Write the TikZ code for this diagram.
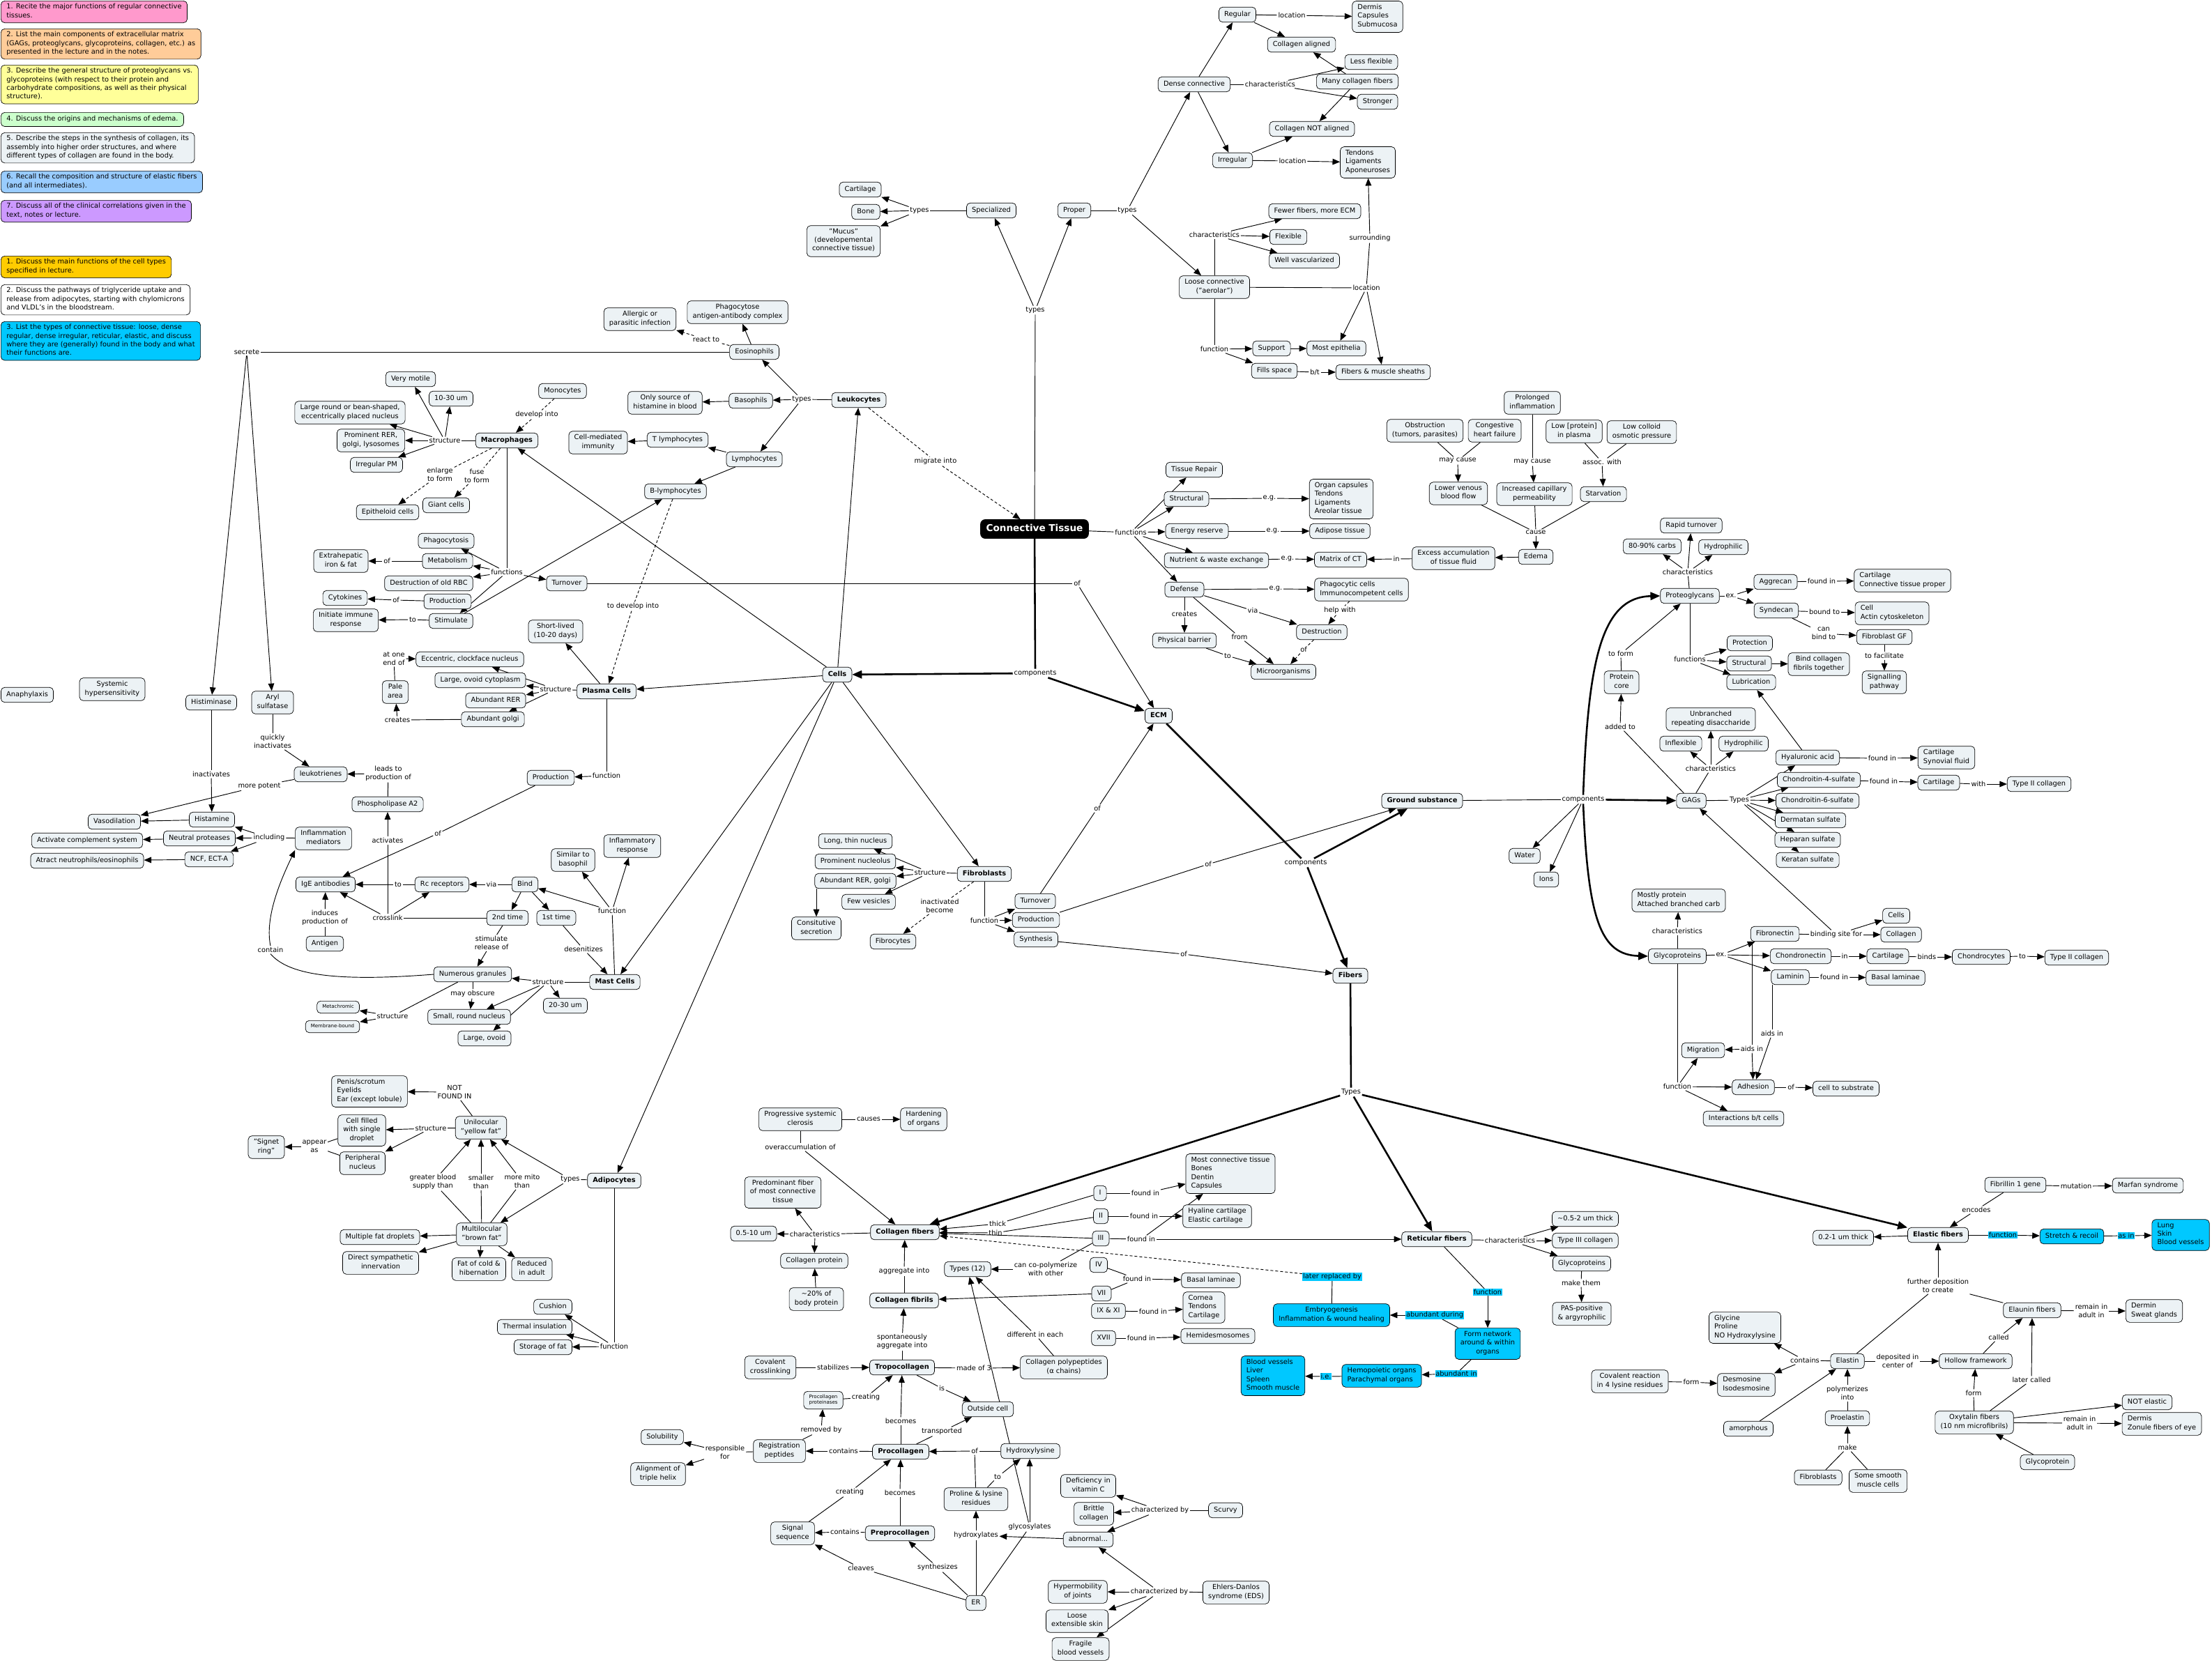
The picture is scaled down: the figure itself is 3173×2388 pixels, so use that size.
\documentclass[tikz,border=0pt]{standalone}
\usepackage{fontspec}
\setmainfont{DejaVu Sans}
\usetikzlibrary{arrows.meta}
\definecolor{nodefill}{RGB}{236,242,245}
\definecolor{skyfill}{RGB}{0,200,255}
\definecolor{gpink}{RGB}{255,153,204}
\definecolor{gorange}{RGB}{255,204,153}
\definecolor{gyellow}{RGB}{255,255,153}
\definecolor{ggreen}{RGB}{204,255,204}
\definecolor{gblue}{RGB}{153,204,255}
\definecolor{gpurple}{RGB}{204,153,255}
\definecolor{ggold}{RGB}{255,204,0}
\newcommand\mapfont{\fontsize{8.4pt}{10.4pt}\selectfont}
\newcommand\tinyfont{\fontsize{6pt}{7.4pt}\selectfont}
\newcommand\bigfont{\fontsize{11.6pt}{14pt}\selectfont}
\pgfdeclarelayer{links}
\pgfsetlayers{links,main}
\tikzset{
	concept/.style={rectangle, rounded corners=1.6mm, draw=black, fill=nodefill, line width=0.6pt, align=center, inner xsep=2.3mm, inner ysep=1.4mm, font=\mapfont, execute at begin node=\strut, execute at end node=\strut},
	keynode/.style={concept, font=\mapfont\bfseries},
	listbox/.style={concept, align=left},
	hilite/.style={concept, fill=skyfill},
	hilitelist/.style={listbox, fill=skyfill},
	tinybox/.style={concept, font=\tinyfont, inner ysep=1.3mm},
	ctbox/.style={concept, fill=black, text=white, font=\bigfont\bfseries, rounded corners=2mm, inner xsep=2.4mm, inner ysep=1.6mm},
	goal/.style={rectangle, rounded corners=1.6mm, draw=black, line width=0.6pt, align=left, anchor=north west, inner xsep=2.4mm, inner ysep=1.2mm, font=\mapfont, execute at begin node=\strut, execute at end node=\strut},
	link/.style={inner sep=1.4pt, font=\mapfont, align=center},
	cyanlink/.style={link, fill=skyfill, inner sep=0.7pt},
	conn/.style={line width=0.8pt},
	arrow/.style={conn, -{Triangle[length=3.2mm, width=2.6mm]}},
	dconn/.style={conn, dash pattern=on 1.2mm off 0.9mm},
	darrow/.style={arrow, dash pattern=on 1.2mm off 0.9mm},
	thickconn/.style={line width=2.2pt},
	thickarrow/.style={thickconn, -{Triangle[length=4.2mm, width=3.4mm]}},
}

\begin{document}
\begin{tikzpicture}[x=0.3mm, y=-0.3mm]
	\useasboundingbox (0,0) rectangle (3173,2388);
	\node[goal, fill=gpink] (g1) at (1,1) {1. Recite the major functions of regular connective\\tissues.};
	\node[goal, fill=gorange] (g2) at (1,41) {2. List the main components of extracellular matrix\\(GAGs, proteoglycans, glycoproteins, collagen, etc.) as\\presented in the lecture and in the notes.};
	\node[goal, fill=gyellow] (g3) at (1,93) {3. Describe the general structure of proteoglycans vs.\\glycoproteins (with respect to their protein and\\carbohydrate compositions, as well as their physical\\structure).};
	\node[goal, fill=ggreen] (g4) at (1,161) {4. Discuss the origins and mechanisms of edema.};
	\node[goal, fill=nodefill] (g5) at (1,190) {5. Describe the steps in the synthesis of collagen, its\\assembly into higher order structures, and where\\different types of collagen are found in the body.};
	\node[goal, fill=gblue] (g6) at (1,245) {6. Recall the composition and structure of elastic fibers\\(and all intermediates).};
	\node[goal, fill=gpurple] (g7) at (1,287) {7. Discuss all of the clinical correlations given in the\\text, notes or lecture.};
	\node[goal, fill=ggold] (h1) at (1,367) {1. Discuss the main functions of the cell types\\specified in lecture.};
	\node[goal, fill=white] (h2) at (1,408) {2. Discuss the pathways of triglyceride uptake and\\release from adipocytes, starting with chylomicrons\\and VLDL's in the bloodstream.};
	\node[goal, fill=skyfill] (h3) at (1,461) {3. List the types of connective tissue: loose, dense\\regular, dense irregular, reticular, elastic, and discuss\\where they are (generally) found in the body and what\\their functions are.};

	\node[ctbox] (ct) at (1484,759) {Connective Tissue};
	\node[link] (tTypes) at (1485,445) {types};
	\node[concept] (spec) at (1422,302) {Specialized};
	\node[concept] (proper) at (1541,302) {Proper};
	\node[link] (tSpec) at (1319,302) {types};
	\node[concept] (cart1) at (1234,272) {Cartilage};
	\node[concept] (bone) at (1242,304) {Bone};
	\node[concept] (mucus) at (1210,346) {"Mucus"\\(developemental\\connective tissue)};
	\node[link] (tProper) at (1617,302) {types};
	\node[concept] (dense) at (1713,121) {Dense connective};
	\node[concept] (regular) at (1775,21) {Regular};
	\node[link] (locReg) at (1853,22) {location};
	\node[listbox] (dermis) at (1976,24) {Dermis\\Capsules\\Submucosa};
	\node[concept] (colAl) at (1867,64) {Collagen aligned};
	\node[concept] (lessFlex) at (1967,89) {Less flexible};
	\node[link] (charDense) at (1822,121) {characteristics};
	\node[concept] (manyCol) at (1947,117) {Many collagen fibers};
	\node[concept] (stronger) at (1976,146) {Stronger};
	\node[concept] (colNot) at (1882,185) {Collagen NOT aligned};
	\node[concept] (irregular) at (1768,230) {Irregular};
	\node[link] (locIrr) at (1854,231) {location};
	\node[listbox] (tendons) at (1962,233) {Tendons\\Ligaments\\Aponeuroses};
	\node[concept] (fewer) at (1886,303) {Fewer fibers, more ECM};
	\node[link] (charLoose) at (1742,337) {characteristics};
	\node[concept] (flexible) at (1848,340) {Flexible};
	\node[link] (surround) at (1965,342) {surrounding};
	\node[concept] (wellVasc) at (1871,374) {Well vascularized};
	\node[concept] (loose) at (1742,412) {Loose connective\\("aerolar")};
	\node[link] (locLoose) at (1960,413) {location};
	\node[link] (fnLoose) at (1742,501) {function};
	\node[concept] (support) at (1824,500) {Support};
	\node[concept] (mostEpi) at (1917,500) {Most epithelia};
	\node[concept] (fills) at (1828,532) {Fills space};
	\node[link] (bt) at (1886,534) {b/t};
	\node[concept] (sheaths) at (1984,534) {Fibers \& muscle sheaths};

	\node[concept] (prolonged) at (2198,578) {Prolonged\\inflammation};
	\node[concept] (obstruct) at (2044,618) {Obstruction\\(tumors, parasites)};
	\node[concept] (chf) at (2144,618) {Congestive\\heart failure};
	\node[concept] (lowProt) at (2258,619) {Low [protein]\\in plasma};
	\node[concept] (lowColl) at (2355,620) {Low colloid\\osmotic pressure};
	\node[link] (mayC1) at (2091,661) {may cause};
	\node[link] (mayC2) at (2198,663) {may cause};
	\node[link] (assoc) at (2298,663) {assoc. with};
	\node[concept] (venous) at (2092,708) {Lower venous\\blood flow};
	\node[concept] (capill) at (2201,709) {Increased capillary\\permeability};
	\node[concept] (starv) at (2300,709) {Starvation};
	\node[link] (cause) at (2203,764) {cause};
	\node[concept] (edema) at (2203,799) {Edema};
	\node[concept] (excess) at (2085,801) {Excess accumulation\\of tissue fluid};
	\node[link] (inEx) at (2003,802) {in};
	\node[concept] (matrix) at (1923,803) {Matrix of CT};
	\node[link] (egNut) at (1847,802) {e.g.};
	\node[concept] (nutrient) at (1745,804) {Nutrient \& waste exchange};
	\node[link] (fnCT) at (1622,764) {functions};
	\node[concept] (repair) at (1713,674) {Tissue Repair};
	\node[concept] (structural) at (1702,716) {Structural};
	\node[link] (egStr) at (1821,715) {e.g.};
	\node[listbox] (organCaps) at (1924,716) {Organ capsules\\Tendons\\Ligaments\\Areolar tissue};
	\node[concept] (energy) at (1717,762) {Energy reserve};
	\node[link] (egEn) at (1826,762) {e.g.};
	\node[concept] (adipose) at (1922,762) {Adipose tissue};
	\node[concept] (defense) at (1699,846) {Defense};
	\node[link] (egDef) at (1830,845) {e.g.};
	\node[listbox] (phago) at (1953,846) {Phagocytic cells\\Immunocompetent cells};
	\node[link] (createsDef) at (1699,881) {creates};
	\node[link] (viaDef) at (1797,876) {via};
	\node[link] (helpWith) at (1922,876) {help with};
	\node[concept] (destr) at (1896,907) {Destruction};
	\node[link] (fromDef) at (1778,914) {from};
	\node[concept] (barrier) at (1699,919) {Physical barrier};
	\node[link] (ofDestr) at (1870,932) {of};
	\node[link] (toBar) at (1761,941) {to};
	\node[concept] (micro) at (1841,964) {Microorganisms};

	\node[keynode] (leuko) at (1232,574) {Leukocytes};
	\node[link] (tLeuko) at (1150,573) {types};
	\node[concept] (eosin) at (1082,505) {Eosinophils};
	\node[concept] (phagoAg) at (1058,448) {Phagocytose\\antigen-antibody complex};
	\node[concept] (allergic) at (918,458) {Allergic or\\parasitic infection};
	\node[link] (reactTo) at (1013,487) {react to};
	\node[concept] (basoph) at (1077,575) {Basophils};
	\node[concept] (onlySrc) at (954,578) {Only source of\\histamine in blood};
	\node[concept] (lympho) at (1082,659) {Lymphocytes};
	\node[concept] (tLym) at (972,631) {T lymphocytes};
	\node[concept] (cellMed) at (858,635) {Cell-mediated\\immunity};
	\node[concept] (bLym) at (969,705) {B-lymphocytes};
	\node[link] (migrate) at (1342,662) {migrate into};
	\node[link] (secrete) at (354,505) {secrete};

	\node[keynode] (macro) at (727,632) {Macrophages};
	\node[link] (strMac) at (638,632) {structure};
	\node[concept] (motile) at (589,544) {Very motile};
	\node[concept] (um1030) at (647,572) {10-30 um};
	\node[concept] (largeNuc) at (502,592) {Large round or bean-shaped,\\eccentrically placed nucleus};
	\node[concept] (promRER) at (532,632) {Prominent RER,\\golgi, lysosomes};
	\node[concept] (irrPM) at (540,667) {Irregular PM};
	\node[link] (enlarge) at (631,681) {enlarge\\to form};
	\node[link] (fuse) at (684,683) {fuse\\to form};
	\node[concept] (epith) at (556,735) {Epitheloid cells};
	\node[concept] (giant) at (640,725) {Giant cells};
	\node[concept] (mono) at (807,561) {Monocytes};
	\node[link] (develop) at (770,595) {develop into};
	\node[concept] (phagocyt) at (640,776) {Phagocytosis};
	\node[link] (fnMac) at (727,821) {functions};
	\node[concept] (extrahep) at (489,805) {Extrahepatic\\iron \& fat};
	\node[link] (ofMet) at (555,805) {of};
	\node[concept] (metab) at (642,805) {Metabolism};
	\node[concept] (destRBC) at (615,837) {Destruction of old RBC};
	\node[concept] (turnMac) at (813,837) {Turnover};
	\node[concept] (cytok) at (495,858) {Cytokines};
	\node[link] (ofCyt) at (568,861) {of};
	\node[concept] (prodMac) at (642,863) {Production};
	\node[concept] (initImm) at (496,890) {Initiate immune\\response};
	\node[link] (toImm) at (592,889) {to};
	\node[concept] (stim) at (647,891) {Stimulate};
	\node[link] (ofTurn) at (1545,837) {of};

	\node[keynode] (plasma) at (870,992) {Plasma Cells};
	\node[concept] (shortLived) at (797,906) {Short-lived\\(10-20 days)};
	\node[link] (strPl) at (797,989) {structure};
	\node[concept] (eccent) at (674,946) {Eccentric, clockface nucleus};
	\node[concept] (ovoidCyt) at (689,976) {Large, ovoid cytoplasm};
	\node[concept] (abRER) at (711,1005) {Abundant RER};
	\node[concept] (abGolgi) at (707,1032) {Abundant golgi};
	\node[concept] (pale) at (567,993) {Pale\\area};
	\node[link] (atEnd) at (565,945) {at one\\end of};
	\node[link] (createsPl) at (570,1033) {creates};
	\node[link] (fnPl) at (870,1113) {function};
	\node[concept] (prodPl) at (790,1116) {Production};
	\node[link] (ofProd) at (628,1196) {of};
	\node[link] (toDevelop) at (908,870) {to develop into};

	\node[concept] (anaph) at (39,997) {Anaphylaxis};
	\node[concept] (sysHyp) at (161,989) {Systemic\\hypersensitivity};
	\node[concept] (histase) at (303,1008) {Histiminase};
	\node[concept] (aryl) at (391,1008) {Aryl\\sulfatase};
	\node[link] (quickly) at (391,1064) {quickly\\inactivates};
	\node[concept] (leukot) at (460,1111) {leukotrienes};
	\node[link] (leadsTo) at (557,1110) {leads to\\production of};
	\node[link] (inact) at (303,1111) {inactivates};
	\node[link] (potent) at (372,1128) {more potent};
	\node[concept] (phosA2) at (556,1154) {Phospholipase A2};
	\node[concept] (histamine) at (304,1176) {Histamine};
	\node[concept] (vasod) at (164,1179) {Vasodilation};
	\node[concept] (neutral) at (286,1203) {Neutral proteases};
	\node[link] (including) at (386,1202) {including};
	\node[concept] (inflMed) at (464,1203) {Inflammation\\mediators};
	\node[concept] (complement) at (125,1206) {Activate complement system};
	\node[link] (activates) at (556,1206) {activates};
	\node[concept] (ncf) at (300,1233) {NCF, ECT-A};
	\node[concept] (atract) at (125,1235) {Atract neutrophils/eosinophils};
	\node[concept] (ige) at (467,1269) {IgE antibodies};
	\node[link] (toIge) at (571,1269) {to};
	\node[concept] (rc) at (634,1269) {Rc receptors};
	\node[link] (viaBind) at (705,1269) {via};
	\node[concept] (bind) at (753,1269) {Bind};
	\node[link] (induces) at (466,1317) {induces\\production of};
	\node[link] (crosslink) at (556,1317) {crosslink};
	\node[concept] (second) at (728,1317) {2nd time};
	\node[concept] (first) at (798,1317) {1st time};
	\node[concept] (antigen) at (466,1354) {Antigen};
	\node[link] (stimRel) at (705,1353) {stimulate\\release of};
	\node[link] (contain) at (388,1363) {contain};
	\node[concept] (granules) at (678,1398) {Numerous granules};
	\node[link] (strMast) at (786,1409) {structure};
	\node[link] (obscure) at (678,1426) {may obscure};
	\node[tinybox] (metachr) at (485,1445) {Metachromic};
	\node[link] (strGran) at (563,1458) {structure};
	\node[concept] (smallNuc) at (673,1459) {Small, round nucleus};
	\node[tinybox] (membr) at (477,1473) {Membrane-bound};
	\node[concept] (largeOv) at (695,1490) {Large, ovoid};
	\node[concept] (um2030) at (811,1443) {20-30 um};
	\node[keynode] (mast) at (882,1409) {Mast Cells};
	\node[link] (fnMast) at (878,1307) {function};
	\node[concept] (similar) at (822,1234) {Similar to\\basophil};
	\node[concept] (inflResp) at (907,1214) {Inflammatory\\response};
	\node[link] (desens) at (837,1362) {desenitizes};

	\node[keynode] (adipo) at (881,1694) {Adipocytes};
	\node[link] (tAdipo) at (818,1692) {types};
	\node[link] (notFound) at (652,1567) {NOT\\FOUND IN};
	\node[listbox] (penis) at (530,1566) {Penis/scrotum\\Eyelids\\Ear (except lobule)};
	\node[concept] (uniloc) at (690,1618) {Unilocular\\"yellow fat"};
	\node[link] (strUni) at (618,1619) {structure};
	\node[concept] (cellFilled) at (519,1622) {Cell filled\\with single\\droplet};
	\node[concept] (signet) at (382,1646) {"Signet\\ring"};
	\node[link] (appear) at (451,1645) {appear\\as};
	\node[concept] (periph) at (520,1669) {Peripheral\\nucleus};
	\node[link] (greater) at (621,1696) {greater blood\\supply than};
	\node[link] (smaller) at (690,1696) {smaller\\than};
	\node[link] (moreMito) at (749,1695) {more mito\\than};
	\node[concept] (multiloc) at (691,1771) {Multilocular\\"brown fat"};
	\node[concept] (multDrop) at (545,1775) {Multiple fat droplets};
	\node[concept] (directSym) at (546,1812) {Direct sympathetic\\innervation};
	\node[concept] (fatCold) at (687,1821) {Fat of cold \&\\hibernation};
	\node[concept] (reduced) at (763,1821) {Reduced\\in adult};
	\node[concept] (cushion) at (793,1875) {Cushion};
	\node[concept] (thermal) at (767,1904) {Thermal insulation};
	\node[concept] (storage) at (779,1933) {Storage of fat};
	\node[link] (fnAdipo) at (881,1932) {function};

	\node[keynode] (cells) at (1201,968) {Cells};
	\node[link] (compCT) at (1485,966) {components};
	\node[keynode] (fibro) at (1412,1254) {Fibroblasts};
	\node[link] (strFib) at (1334,1252) {structure};
	\node[concept] (longNuc) at (1227,1207) {Long, thin nucleus};
	\node[concept] (promNuc) at (1227,1236) {Prominent nucleolus};
	\node[concept] (abRERg) at (1227,1264) {Abundant RER, golgi};
	\node[concept] (fewVes) at (1246,1294) {Few vesicles};
	\node[concept] (constit) at (1171,1332) {Consitutive\\secretion};
	\node[link] (inactBec) at (1348,1300) {inactivated\\become};
	\node[concept] (fibrocytes) at (1281,1351) {Fibrocytes};
	\node[link] (fnFib) at (1412,1321) {function};
	\node[concept] (turnFib) at (1485,1293) {Turnover};
	\node[concept] (prodFib) at (1486,1320) {Production};
	\node[concept] (synth) at (1486,1348) {Synthesis};
	\node[link] (ofTurnFib) at (1574,1160) {of};
	\node[link] (ofProdFib) at (1733,1240) {of};
	\node[link] (ofSynth) at (1698,1369) {of};

	\node[keynode] (ecm) at (1662,1027) {ECM};
	\node[link] (compECM) at (1873,1238) {components};
	\node[keynode] (ground) at (2040,1149) {Ground substance};
	\node[keynode] (fibers) at (1937,1400) {Fibers};
	\node[link] (compGS) at (2271,1147) {components};
	\node[concept] (water) at (2187,1228) {Water};
	\node[concept] (ions) at (2218,1262) {Ions};
	\node[concept] (proteo) at (2424,855) {Proteoglycans};
	\node[link] (charPG) at (2421,821) {characteristics};
	\node[concept] (rapid) at (2426,754) {Rapid turnover};
	\node[concept] (carbs) at (2370,784) {80-90\% carbs};
	\node[concept] (hydro1) at (2472,785) {Hydrophilic};
	\node[concept] (protCore) at (2326,979) {Protein\\core};
	\node[link] (toForm) at (2325,938) {to form};
	\node[link] (addedTo) at (2324,1043) {added to};
	\node[link] (exPG) at (2483,855) {ex.};
	\node[concept] (aggrecan) at (2547,835) {Aggrecan};
	\node[link] (foundAgg) at (2613,834) {found in};
	\node[listbox] (cartCTP) at (2729,833) {Cartilage\\Connective tissue proper};
	\node[concept] (syndecan) at (2548,876) {Syndecan};
	\node[link] (boundTo) at (2617,878) {bound to};
	\node[listbox] (cellActin) at (2714,880) {Cell\\Actin cytoskeleton};
	\node[link] (canBind) at (2616,909) {can\\bind to};
	\node[concept] (fgf) at (2703,914) {Fibroblast GF};
	\node[link] (facil) at (2703,941) {to facilitate};
	\node[concept] (signal) at (2703,979) {Signalling\\pathway};
	\node[link] (fnPG) at (2424,946) {functions};
	\node[concept] (protect) at (2510,923) {Protection};
	\node[concept] (structPG) at (2509,952) {Structural};
	\node[concept] (bindCol) at (2609,953) {Bind collagen\\fibrils together};
	\node[concept] (lubric) at (2512,979) {Lubrication};
	\node[concept] (unbranched) at (2454,1032) {Unbranched\\repeating disaccharide};
	\node[concept] (inflex) at (2411,1067) {Inflexible};
	\node[concept] (hydro2) at (2501,1067) {Hydrophilic};
	\node[link] (charGAG) at (2454,1103) {characteristics};
	\node[concept] (gags) at (2426,1149) {GAGs};
	\node[link] (typesGAG) at (2495,1148) {Types};
	\node[concept] (hyal) at (2593,1087) {Hyaluronic acid};
	\node[link] (foundHy) at (2700,1088) {found in};
	\node[listbox] (cartSyn) at (2792,1087) {Cartilage\\Synovial fluid};
	\node[concept] (c4s) at (2609,1119) {Chondroitin-4-sulfate};
	\node[link] (foundC4) at (2702,1121) {found in};
	\node[concept] (cart2) at (2781,1123) {Cartilage};
	\node[link] (withC) at (2838,1125) {with};
	\node[concept] (type2a) at (2925,1125) {Type II collagen};
	\node[concept] (c6s) at (2607,1149) {Chondroitin-6-sulfate};
	\node[concept] (dermatan) at (2597,1177) {Dermatan sulfate};
	\node[concept] (heparan) at (2593,1205) {Heparan sulfate};
	\node[concept] (keratan) at (2593,1234) {Keratan sulfate};
	\node[listbox] (mostlyProt) at (2408,1292) {Mostly protein\\Attached branched carb};
	\node[link] (charGly) at (2406,1336) {characteristics};
	\node[concept] (glyco) at (2406,1372) {Glycoproteins};
	\node[link] (exGly) at (2469,1370) {ex.};
	\node[concept] (fibronec) at (2546,1340) {Fibronectin};
	\node[link] (bindSite) at (2634,1341) {binding site for};
	\node[concept] (cellsN) at (2720,1314) {Cells};
	\node[concept] (collN) at (2727,1341) {Collagen};
	\node[concept] (chondronec) at (2583,1372) {Chondronectin};
	\node[link] (inCh) at (2646,1372) {in};
	\node[concept] (cart3) at (2708,1372) {Cartilage};
	\node[link] (binds) at (2764,1373) {binds};
	\node[concept] (chondrocytes) at (2842,1373) {Chondrocytes};
	\node[link] (toCh) at (2901,1372) {to};
	\node[concept] (type2b) at (2979,1374) {Type II collagen};
	\node[concept] (laminin) at (2568,1402) {Laminin};
	\node[link] (foundLam) at (2631,1402) {found in};
	\node[concept] (basal1) at (2719,1403) {Basal laminae};
	\node[link] (aidsLam) at (2542,1483) {aids in};
	\node[concept] (migration) at (2443,1507) {Migration};
	\node[link] (aidsFib) at (2513,1505) {aids in};
	\node[link] (fnGly) at (2406,1559) {function};
	\node[concept] (adhesion) at (2515,1560) {Adhesion};
	\node[link] (ofAdh) at (2569,1560) {of};
	\node[concept] (cellSub) at (2648,1562) {cell to substrate};
	\node[concept] (interact) at (2501,1605) {Interactions b/t cells};

	\node[link] (typesFib) at (1938,1567) {Types};
	\node[keynode] (colFib) at (1298,1768) {Collagen fibers};
	\node[keynode] (retic) at (2061,1778) {Reticular fibers};
	\node[keynode] (elastic) at (2780,1772) {Elastic fibers};
	\node[concept] (progress) at (1148,1606) {Progressive systemic\\clerosis};
	\node[link] (causes) at (1246,1606) {causes};
	\node[concept] (harden) at (1325,1606) {Hardening\\of organs};
	\node[link] (overacc) at (1148,1646) {overaccumulation of};
	\node[concept] (predom) at (1123,1711) {Predominant fiber\\of most connective\\tissue};
	\node[link] (charCol) at (1169,1771) {characteristics};
	\node[concept] (um0510) at (1081,1770) {0.5-10 um};
	\node[concept] (colProt) at (1168,1809) {Collagen protein};
	\node[concept] (pct20) at (1171,1864) {\textasciitilde20\% of\\body protein};
	\node[concept] (typeI) at (1578,1712) {I};
	\node[concept] (typeII) at (1579,1745) {II};
	\node[concept] (typeIII) at (1579,1777) {III};
	\node[concept] (typeIV) at (1576,1815) {IV};
	\node[concept] (typeVII) at (1580,1856) {VII};
	\node[concept] (typeIX) at (1590,1881) {IX \& XI};
	\node[concept] (typeXVII) at (1583,1920) {XVII};
	\node[link] (thick) at (1431,1756) {thick};
	\node[link] (thin) at (1428,1769) {thin};
	\node[concept] (types12) at (1388,1821) {Types (12)};
	\node[link] (copoly) at (1500,1821) {can co-polymerize\\with other};
	\node[link] (aggInto) at (1297,1824) {aggregate into};
	\node[keynode] (colFibrils) at (1297,1866) {Collagen fibrils};
	\node[link] (diffEach) at (1485,1915) {different in each};
	\node[link] (spont) at (1294,1925) {spontaneously\\aggregate into};
	\node[concept] (covalent) at (1105,1962) {Covalent\\crosslinking};
	\node[link] (stabil) at (1195,1962) {stabilizes};
	\node[keynode] (tropo) at (1294,1962) {Tropocollagen};
	\node[link] (madeOf) at (1397,1963) {made of 3};
	\node[concept] (polypep) at (1526,1962) {Collagen polypeptides\\(α chains)};
	\node[link] (isOut) at (1351,1992) {is};
	\node[tinybox] (proteinases) at (1181,2009) {Procollagen\\proteinases};
	\node[link] (creatTro) at (1242,2005) {creating};
	\node[concept] (outside) at (1417,2022) {Outside cell};
	\node[link] (becomes1) at (1292,2039) {becomes};
	\node[link] (removed) at (1178,2052) {removed by};
	\node[link] (transp) at (1351,2054) {transported};
	\node[concept] (solub) at (950,2062) {Solubility};
	\node[link] (respFor) at (1040,2084) {responsible\\for};
	\node[concept] (regPep) at (1118,2082) {Registration\\peptides};
	\node[link] (containsP) at (1210,2082) {contains};
	\node[keynode] (procol) at (1292,2083) {Procollagen};
	\node[link] (ofHyd) at (1398,2082) {of};
	\node[concept] (hydroxy) at (1478,2082) {Hydroxylysine};
	\node[concept] (align) at (944,2115) {Alignment of\\triple helix};
	\node[link] (toHyd) at (1431,2119) {to};
	\node[concept] (vitC) at (1561,2132) {Deficiency in\\vitamin C};
	\node[link] (creatSig) at (1219,2141) {creating};
	\node[link] (becomes2) at (1291,2142) {becomes};
	\node[concept] (proline) at (1400,2151) {Proline \& lysine\\residues};
	\node[concept] (brittle) at (1569,2172) {Brittle\\collagen};
	\node[link] (glycos) at (1477,2191) {glycosylates};
	\node[concept] (sigSeq) at (1137,2200) {Signal\\sequence};
	\node[link] (containsS) at (1212,2198) {contains};
	\node[keynode] (preproc) at (1291,2200) {Preprocollagen};
	\node[link] (hydroxyl) at (1400,2203) {hydroxylates};
	\node[concept] (abnormal) at (1561,2209) {abnormal...};
	\node[link] (cleaves) at (1235,2250) {cleaves};
	\node[link] (synthes) at (1345,2249) {synthesizes};
	\node[concept] (hypermob) at (1546,2284) {Hypermobility\\of joints};
	\node[concept] (er) at (1400,2300) {ER};
	\node[concept] (looseSkin) at (1545,2326) {Loose\\extensible skin};
	\node[concept] (fragile) at (1550,2366) {Fragile\\blood vessels};
	\node[link] (charScurvy) at (1664,2167) {characterized by};
	\node[concept] (scurvy) at (1758,2167) {Scurvy};
	\node[link] (charEDS) at (1663,2284) {characterized by};
	\node[concept] (eds) at (1773,2285) {Ehlers-Danlos\\syndrome (EDS)};
	\node[listbox] (mostCT) at (1765,1684) {Most connective tissue\\Bones\\Dentin\\Capsules};
	\node[link] (foundI) at (1643,1712) {found in};
	\node[link] (foundII) at (1641,1745) {found in};
	\node[link] (foundIII) at (1637,1778) {found in};
	\node[link] (foundIV) at (1631,1835) {found in};
	\node[link] (foundIX) at (1654,1882) {found in};
	\node[link] (foundXVII) at (1637,1920) {found in};
	\node[listbox] (hyaline) at (1746,1745) {Hyaline cartilage\\Elastic cartilage};
	\node[concept] (basal2) at (1737,1837) {Basal laminae};
	\node[listbox] (cornea) at (1727,1876) {Cornea\\Tendons\\Cartilage};
	\node[concept] (hemides) at (1747,1917) {Hemidesmosomes};
	\node[cyanlink] (laterRep) at (1911,1832) {later replaced by};
	\node[link] (charRet) at (2166,1780) {characteristics};
	\node[concept] (thin052) at (2274,1749) {\textasciitilde0.5-2 um thick};
	\node[concept] (type3) at (2274,1780) {Type III collagen};
	\node[concept] (glycoRet) at (2269,1813) {Glycoproteins};
	\node[link] (makeThem) at (2268,1841) {make them};
	\node[concept] (pas) at (2269,1885) {PAS-positive\\\& argyrophilic};
	\node[cyanlink] (fnRet) at (2134,1854) {function};
	\node[hilite] (embryo) at (1910,1887) {Embryogenesis\\Inflammation \& wound healing};
	\node[cyanlink] (abDuring) at (2058,1887) {abundant during};
	\node[hilite] (network) at (2134,1928) {Form network\\around \& within\\organs};
	\node[hilitelist] (bloodV) at (1826,1974) {Blood vessels\\Liver\\Spleen\\Smooth muscle};
	\node[cyanlink] (ie) at (1902,1975) {i.e.};
	\node[hilitelist] (hemopo) at (1982,1974) {Hemopoietic organs\\Parachymal organs};
	\node[cyanlink] (abIn) at (2089,1971) {abundant in};
	\node[concept] (covReact) at (2338,1982) {Covalent reaction\\in 4 lysine residues};

	\node[concept] (fibrillin) at (2891,1700) {Fibrillin 1 gene};
	\node[link] (mutation) at (2978,1702) {mutation};
	\node[concept] (marfan) at (3081,1701) {Marfan syndrome};
	\node[link] (encodes) at (2835,1736) {encodes};
	\node[concept] (um021) at (2644,1776) {0.2-1 um thick};
	\node[cyanlink] (fnEl) at (2873,1772) {function};
	\node[hilite] (stretch) at (2972,1774) {Stretch \& recoil};
	\node[cyanlink] (asIn) at (3050,1773) {as in};
	\node[hilitelist] (lung) at (3128,1772) {Lung\\Skin\\Blood vessels};
	\node[link] (further) at (2780,1845) {further deposition\\to create};
	\node[concept] (elaunin) at (2915,1880) {Elaunin fibers};
	\node[link] (remain1) at (3000,1881) {remain in\\adult in};
	\node[listbox] (dermin) at (3090,1881) {Dermin\\Sweat glands};
	\node[listbox] (glycine) at (2503,1905) {Glycine\\Proline\\NO Hydroxylysine};
	\node[link] (called) at (2867,1919) {called};
	\node[link] (containsE) at (2589,1952) {contains};
	\node[concept] (elastin) at (2650,1953) {Elastin};
	\node[link] (deposited) at (2722,1953) {deposited in\\center of};
	\node[concept] (hollow) at (2834,1953) {Hollow framework};
	\node[link] (laterCalled) at (2914,1980) {later called};
	\node[link] (formD) at (2426,1983) {form};
	\node[listbox] (desmo) at (2505,1987) {Desmosine\\Isodesmosine};
	\node[link] (polym) at (2650,1999) {polymerizes\\into};
	\node[link] (formH) at (2831,1999) {form};
	\node[concept] (notEl) at (3080,2012) {NOT elastic};
	\node[concept] (proelastin) at (2650,2035) {Proelastin};
	\node[concept] (oxytalin) at (2832,2041) {Oxytalin fibers\\(10 nm microfibrils)};
	\node[link] (remain2) at (2983,2042) {remain in\\adult in};
	\node[listbox] (dermisZ) at (3101,2043) {Dermis\\Zonule fibers of eye};
	\node[concept] (amorph) at (2508,2050) {amorphous};
	\node[link] (make) at (2650,2077) {make};
	\node[concept] (glycoprot) at (2937,2098) {Glycoprotein};
	\node[concept] (fibroblasts2) at (2608,2120) {Fibroblasts};
	\node[concept] (smooth) at (2694,2125) {Some smooth\\muscle cells};

	\begin{pgfonlayer}{links}
		\draw[conn] (ct) -- (tTypes);
		\draw[arrow] (tTypes) -- (spec);
		\draw[arrow] (tTypes) -- (proper);
		\draw[conn] (spec) -- (tSpec);
		\draw[arrow] (tSpec) -- (cart1);
		\draw[arrow] (tSpec) -- (bone);
		\draw[arrow] (tSpec) -- (mucus);
		\draw[conn] (proper) -- (tProper);
		\draw[arrow] (tProper) -- (dense);
		\draw[arrow] (tProper) -- (loose);
		\draw[arrow] (dense) -- (regular);
		\draw[arrow] (dense) -- (irregular);
		\draw[conn] (dense) -- (charDense);
		\draw[arrow] (charDense) -- (lessFlex);
		\draw[arrow] (charDense) -- (stronger);
		\draw[arrow] (manyCol) -- (colAl);
		\draw[arrow] (manyCol) -- (colNot);
		\draw[arrow] (regular) -- (colAl);
		\draw[conn] (regular) -- (locReg);
		\draw[arrow] (locReg) -- (dermis);
		\draw[arrow] (irregular) -- (colNot);
		\draw[conn] (irregular) -- (locIrr);
		\draw[arrow] (locIrr) -- (tendons);
		\draw[conn] (loose) -- (charLoose);
		\draw[arrow] (charLoose) -- (fewer);
		\draw[arrow] (charLoose) -- (flexible);
		\draw[arrow] (charLoose) -- (wellVasc);
		\draw[conn] (loose) -- (locLoose);
		\draw[arrow] (locLoose) -- (mostEpi);
		\draw[arrow] (locLoose) -- (sheaths);
		\draw[conn] (locLoose) -- (surround);
		\draw[arrow] (surround) -- (tendons);
		\draw[conn] (loose) -- (fnLoose);
		\draw[arrow] (fnLoose) -- (support);
		\draw[arrow] (fnLoose) -- (fills);
		\draw[arrow] (support) -- (mostEpi);
		\draw[conn] (fills) -- (bt);
		\draw[arrow] (bt) -- (sheaths);

		\draw[conn] (ct) -- (fnCT);
		\draw[arrow] (fnCT) -- (repair);
		\draw[arrow] (fnCT) -- (structural);
		\draw[arrow] (fnCT) -- (energy);
		\draw[arrow] (fnCT) -- (nutrient);
		\draw[arrow] (fnCT) -- (defense);
		\draw[conn] (structural) -- (egStr);
		\draw[arrow] (egStr) -- (organCaps);
		\draw[conn] (energy) -- (egEn);
		\draw[arrow] (egEn) -- (adipose);
		\draw[conn] (nutrient) -- (egNut);
		\draw[arrow] (egNut) -- (matrix);
		\draw[conn] (excess) -- (inEx);
		\draw[arrow] (inEx) -- (matrix);
		\draw[arrow] (edema) -- (excess);
		\draw[conn] (obstruct) -- (mayC1);
		\draw[conn] (chf) -- (mayC1);
		\draw[arrow] (mayC1) -- (venous);
		\draw[conn] (prolonged) -- (mayC2);
		\draw[arrow] (mayC2) -- (capill);
		\draw[conn] (lowProt) -- (assoc);
		\draw[conn] (lowColl) -- (assoc);
		\draw[arrow] (assoc) -- (starv);
		\draw[conn] (venous) -- (cause);
		\draw[conn] (capill) -- (cause);
		\draw[conn] (starv) -- (cause);
		\draw[arrow] (cause) -- (edema);
		\draw[conn] (defense) -- (egDef);
		\draw[arrow] (egDef) -- (phago);
		\draw[conn] (defense) -- (createsDef);
		\draw[arrow] (createsDef) -- (barrier);
		\draw[conn] (defense) -- (viaDef);
		\draw[arrow] (viaDef) -- (destr);
		\draw[conn] (defense) -- (fromDef);
		\draw[arrow] (fromDef) -- (micro);
		\draw[dconn] (phago) -- (helpWith);
		\draw[darrow] (helpWith) -- (destr);
		\draw[dconn] (destr) -- (ofDestr);
		\draw[darrow] (ofDestr) -- (micro);
		\draw[conn] (barrier) -- (toBar);
		\draw[arrow] (toBar) -- (micro);

		\draw[thickconn] (ct) -- (compCT);
		\draw[thickarrow] (compCT) -- (cells);
		\draw[thickarrow] (compCT) -- (ecm);
		\draw[dconn] (leuko) -- (migrate);
		\draw[darrow] (migrate) -- (ct);
		\draw[arrow] (cells) -- (leuko);
		\draw[arrow] (cells) -- (macro);
		\draw[arrow] (cells) -- (plasma);
		\draw[arrow] (cells) -- (mast);
		\draw[arrow] (cells) -- (adipo);
		\draw[arrow] (cells) -- (fibro);

		\draw[conn] (leuko) -- (tLeuko);
		\draw[arrow] (tLeuko) -- (eosin);
		\draw[arrow] (tLeuko) -- (basoph);
		\draw[arrow] (tLeuko) -- (lympho);
		\draw[dconn] (eosin) -- (reactTo);
		\draw[darrow] (reactTo) -- (allergic);
		\draw[arrow] (eosin) -- (phagoAg);
		\draw[conn] (eosin) -- (secrete);
		\draw[arrow] (secrete) -- (histase);
		\draw[arrow] (secrete) -- (aryl);
		\draw[arrow] (basoph) -- (onlySrc);
		\draw[arrow] (lympho) -- (tLym);
		\draw[arrow] (lympho) -- (bLym);
		\draw[arrow] (tLym) -- (cellMed);
		\draw[dconn] (bLym) -- (toDevelop);
		\draw[darrow] (toDevelop) -- (plasma);

		\draw[dconn] (mono) -- (develop);
		\draw[darrow] (develop) -- (macro);
		\draw[conn] (macro) -- (strMac);
		\draw[arrow] (strMac) -- (motile);
		\draw[arrow] (strMac) -- (um1030);
		\draw[arrow] (strMac) -- (largeNuc);
		\draw[arrow] (strMac) -- (promRER);
		\draw[arrow] (strMac) -- (irrPM);
		\draw[dconn] (macro) -- (enlarge);
		\draw[darrow] (enlarge) -- (epith);
		\draw[dconn] (macro) -- (fuse);
		\draw[darrow] (fuse) -- (giant);
		\draw[conn] (macro) -- (fnMac);
		\draw[arrow] (fnMac) -- (phagocyt);
		\draw[arrow] (fnMac) -- (metab);
		\draw[arrow] (fnMac) -- (destRBC);
		\draw[arrow] (fnMac) -- (turnMac);
		\draw[arrow] (fnMac) -- (stim);
		\draw[conn] (metab) -- (ofMet);
		\draw[arrow] (ofMet) -- (extrahep);
		\draw[conn] (prodMac) -- (ofCyt);
		\draw[arrow] (ofCyt) -- (cytok);
		\draw[conn] (stim) -- (toImm);
		\draw[arrow] (toImm) -- (initImm);
		\draw[arrow] (stim) -- (bLym);
		\draw[conn] (turnMac) -- (ofTurn);
		\draw[arrow] (ofTurn) -- (ecm);

		\draw[arrow] (plasma) -- (shortLived);
		\draw[conn] (plasma) -- (strPl);
		\draw[arrow] (strPl) -- (eccent);
		\draw[arrow] (strPl) -- (ovoidCyt);
		\draw[arrow] (strPl) -- (abRER);
		\draw[arrow] (strPl) -- (abGolgi);
		\draw[conn] (abGolgi) -- (createsPl);
		\draw[arrow] (createsPl) -- (pale);
		\draw[conn] (pale) -- (atEnd);
		\draw[arrow] (atEnd) -- (eccent);
		\draw[conn] (plasma) -- (fnPl);
		\draw[arrow] (fnPl) -- (prodPl);
		\draw[conn] (prodPl) -- (ofProd);
		\draw[arrow] (ofProd) -- (ige);

		\draw[conn] (histase) -- (inact);
		\draw[arrow] (inact) -- (histamine);
		\draw[conn] (aryl) -- (quickly);
		\draw[arrow] (quickly) -- (leukot);
		\draw[conn] (phosA2) -- (leadsTo);
		\draw[arrow] (leadsTo) -- (leukot);
		\draw[conn] (leukot) -- (potent);
		\draw[arrow] (potent) -- (vasod);
		\draw[arrow] (histamine) -- (vasod);
		\draw[conn] (inflMed) -- (including);
		\draw[arrow] (including) -- (histamine);
		\draw[arrow] (including) -- (neutral);
		\draw[arrow] (including) -- (ncf);
		\draw[arrow] (neutral) -- (complement);
		\draw[arrow] (ncf) -- (atract);
		\draw[conn] (antigen) -- (induces);
		\draw[arrow] (induces) -- (ige);
		\draw[conn] (rc) -- (toIge);
		\draw[arrow] (toIge) -- (ige);
		\draw[conn] (bind) -- (viaBind);
		\draw[arrow] (viaBind) -- (rc);
		\draw[conn] (second) -- (crosslink);
		\draw[arrow] (crosslink) -- (ige);
		\draw[arrow] (crosslink) -- (rc);
		\draw[conn] (crosslink) -- (activates);
		\draw[arrow] (activates) -- (phosA2);
		\draw[arrow] (bind) -- (second);
		\draw[arrow] (bind) -- (first);
		\draw[conn] (second) -- (stimRel);
		\draw[arrow] (stimRel) -- (granules);
		\draw[conn] (first) -- (desens);
		\draw[arrow] (desens) -- (mast);
		\draw[conn] (mast) -- (fnMast);
		\draw[arrow] (fnMast) -- (similar);
		\draw[arrow] (fnMast) -- (inflResp);
		\draw[arrow] (fnMast) -- (bind);
		\draw[conn] (mast) -- (strMast);
		\draw[arrow] (strMast) -- (granules);
		\draw[arrow] (strMast) -- (um2030);
		\draw[arrow] (strMast) -- (smallNuc);
		\draw[arrow] (strMast) -- (largeOv);
		\draw[conn] (granules) -- (obscure);
		\draw[arrow] (obscure) -- (smallNuc);
		\draw[conn] (granules) -- (strGran);
		\draw[arrow] (strGran) -- (metachr);
		\draw[arrow] (strGran) -- (membr);
		\draw[conn] (granules.west) .. controls (470,1410) and (412,1396) .. (contain.south);
		\draw[arrow] (contain.north) .. controls (380,1318) and (400,1268) .. (inflMed.south west);

		\draw[conn] (adipo) -- (tAdipo);
		\draw[arrow] (tAdipo) -- (uniloc);
		\draw[arrow] (tAdipo) -- (multiloc);
		\draw[conn] (adipo) -- (fnAdipo);
		\draw[arrow] (fnAdipo) -- (cushion);
		\draw[arrow] (fnAdipo) -- (thermal);
		\draw[arrow] (fnAdipo) -- (storage);
		\draw[conn] (uniloc) -- (notFound);
		\draw[arrow] (notFound) -- (penis);
		\draw[conn] (uniloc) -- (strUni);
		\draw[arrow] (strUni) -- (cellFilled);
		\draw[arrow] (strUni) -- (periph);
		\draw[conn] (cellFilled) -- (appear);
		\draw[conn] (periph) -- (appear);
		\draw[arrow] (appear) -- (signet);
		\draw[conn] (multiloc) -- (greater);
		\draw[arrow] (greater) -- (uniloc);
		\draw[conn] (multiloc) -- (smaller);
		\draw[arrow] (smaller) -- (uniloc);
		\draw[conn] (multiloc) -- (moreMito);
		\draw[arrow] (moreMito) -- (uniloc);
		\draw[arrow] (multiloc) -- (multDrop);
		\draw[arrow] (multiloc) -- (directSym);
		\draw[arrow] (multiloc) -- (fatCold);
		\draw[arrow] (multiloc) -- (reduced);

		\draw[conn] (fibro) -- (strFib);
		\draw[arrow] (strFib) -- (longNuc);
		\draw[arrow] (strFib) -- (promNuc);
		\draw[arrow] (strFib) -- (abRERg);
		\draw[arrow] (strFib) -- (fewVes);
		\draw[arrow] (constit.north |- abRERg.south) -- (constit.north);
		\draw[dconn] (fibro) -- (inactBec);
		\draw[darrow] (inactBec) -- (fibrocytes);
		\draw[conn] (fibro) -- (fnFib);
		\draw[arrow] (fnFib) -- (turnFib);
		\draw[arrow] (fnFib) -- (prodFib);
		\draw[arrow] (fnFib) -- (synth);
		\draw[conn] (turnFib) -- (ofTurnFib);
		\draw[arrow] (ofTurnFib) -- (ecm);
		\draw[conn] (prodFib) -- (ofProdFib);
		\draw[arrow] (ofProdFib) -- (ground);
		\draw[conn] (synth) -- (ofSynth);
		\draw[arrow] (ofSynth) -- (fibers);

		\draw[thickconn] (ecm) -- (compECM);
		\draw[thickarrow] (compECM) -- (ground);
		\draw[thickarrow] (compECM) -- (fibers);
		\draw[conn] (ground) -- (compGS);
		\draw[thickarrow] (compGS) -- (gags);
		\draw[arrow] (compGS) -- (water);
		\draw[arrow] (compGS) -- (ions);
		\draw[thickarrow] (compGS.north) .. controls (2278,950) and (2296,857) .. (proteo.west);
		\draw[thickarrow] (compGS.south) .. controls (2278,1320) and (2296,1370) .. (glyco.west);
		\draw[conn] (protCore) -- (toForm);
		\draw[arrow] (toForm) -- (proteo);
		\draw[conn] (gags) -- (addedTo);
		\draw[arrow] (addedTo) -- (protCore);
		\draw[conn] (proteo) -- (charPG);
		\draw[arrow] (charPG) -- (rapid);
		\draw[arrow] (charPG) -- (carbs);
		\draw[arrow] (charPG) -- (hydro1);
		\draw[conn] (proteo) -- (exPG);
		\draw[arrow] (exPG) -- (aggrecan);
		\draw[arrow] (exPG) -- (syndecan);
		\draw[conn] (aggrecan) -- (foundAgg);
		\draw[arrow] (foundAgg) -- (cartCTP);
		\draw[conn] (syndecan) -- (boundTo);
		\draw[arrow] (boundTo) -- (cellActin);
		\draw[conn] (syndecan) -- (canBind);
		\draw[arrow] (canBind) -- (fgf);
		\draw[conn] (fgf) -- (facil);
		\draw[arrow] (facil) -- (signal);
		\draw[conn] (proteo) -- (fnPG);
		\draw[arrow] (fnPG) -- (protect);
		\draw[arrow] (fnPG) -- (structPG);
		\draw[arrow] (fnPG) -- (lubric);
		\draw[arrow] (structPG) -- (bindCol);
		\draw[arrow] (hyal) -- (lubric);
		\draw[conn] (gags) -- (charGAG);
		\draw[arrow] (charGAG) -- (inflex);
		\draw[arrow] (charGAG) -- (unbranched);
		\draw[arrow] (charGAG) -- (hydro2);
		\draw[conn] (gags) -- (typesGAG);
		\draw[arrow] (typesGAG) -- (hyal);
		\draw[arrow] (typesGAG) -- (c4s);
		\draw[arrow] (typesGAG) -- (c6s);
		\draw[arrow] (typesGAG) -- (dermatan);
		\draw[arrow] (typesGAG) -- (heparan);
		\draw[arrow] (typesGAG) -- (keratan);
		\draw[conn] (hyal) -- (foundHy);
		\draw[arrow] (foundHy) -- (cartSyn);
		\draw[conn] (c4s) -- (foundC4);
		\draw[arrow] (foundC4) -- (cart2);
		\draw[conn] (cart2) -- (withC);
		\draw[arrow] (withC) -- (type2a);
		\draw[conn] (glyco) -- (charGly);
		\draw[arrow] (charGly) -- (mostlyProt);
		\draw[conn] (glyco) -- (exGly);
		\draw[arrow] (exGly) -- (fibronec);
		\draw[arrow] (exGly) -- (chondronec);
		\draw[arrow] (exGly) -- (laminin);
		\draw[conn] (fibronec) -- (bindSite);
		\draw[arrow] (bindSite) -- (cellsN);
		\draw[arrow] (bindSite) -- (collN);
		\draw[arrow] (bindSite) -- (gags);
		\draw[conn] (chondronec) -- (inCh);
		\draw[arrow] (inCh) -- (cart3);
		\draw[conn] (cart3) -- (binds);
		\draw[arrow] (binds) -- (chondrocytes);
		\draw[conn] (chondrocytes) -- (toCh);
		\draw[arrow] (toCh) -- (type2b);
		\draw[conn] (laminin) -- (foundLam);
		\draw[arrow] (foundLam) -- (basal1);
		\draw[conn] (aidsLam.north) -- (aidsLam.north |- laminin.south);
		\draw[arrow] (aidsLam) -- (adhesion);
		\draw[conn] (aidsFib.north) -- (aidsFib.north |- fibronec.south);
		\draw[arrow] (aidsFib) -- (migration);
		\draw[arrow] (aidsFib) -- (adhesion);
		\draw[conn] (glyco) -- (fnGly);
		\draw[arrow] (fnGly) -- (migration);
		\draw[arrow] (fnGly) -- (adhesion);
		\draw[arrow] (fnGly) -- (interact);
		\draw[conn] (adhesion) -- (ofAdh);
		\draw[arrow] (ofAdh) -- (cellSub);

		\draw[thickconn] (fibers) -- (typesFib);
		\draw[thickarrow] (typesFib) -- (colFib);
		\draw[thickarrow] (typesFib) -- (retic);
		\draw[thickarrow] (typesFib) -- (elastic);
		\draw[conn] (progress) -- (causes);
		\draw[arrow] (causes) -- (harden);
		\draw[conn] (progress) -- (overacc);
		\draw[arrow] (overacc) -- (colFib);
		\draw[conn] (colFib) -- (charCol);
		\draw[arrow] (charCol) -- (predom);
		\draw[arrow] (charCol) -- (um0510);
		\draw[arrow] (charCol) -- (colProt);
		\draw[arrow] (pct20) -- (colProt);
		\draw[conn] (typeI) -- (thick);
		\draw[arrow] (thick) -- (colFib);
		\draw[conn] (typeII) -- (thin);
		\draw[arrow] (thin) -- (colFib);
		\draw[arrow] (typeIII) -- (colFib);
		\draw[conn] (typeI) -- (foundI);
		\draw[arrow] (foundI) -- (mostCT);
		\draw[conn] (typeII) -- (foundII);
		\draw[arrow] (foundII) -- (hyaline);
		\draw[conn] (typeIII) -- (foundIII);
		\draw[arrow] (foundIII) -- (retic);
		\draw[arrow] (foundIII) -- (mostCT);
		\draw[conn] (typeIV) -- (foundIV);
		\draw[conn] (typeVII) -- (foundIV);
		\draw[arrow] (foundIV) -- (basal2);
		\draw[arrow] (typeVII) -- (colFibrils);
		\draw[conn] (typeIX) -- (foundIX);
		\draw[arrow] (foundIX) -- (cornea);
		\draw[conn] (typeXVII) -- (foundXVII);
		\draw[arrow] (foundXVII) -- (hemides);
		\draw[conn] (typeIII) -- (copoly);
		\draw[arrow] (copoly) -- (types12);
		\draw[conn] (polypep) -- (diffEach);
		\draw[arrow] (diffEach) -- (types12);
		\draw[conn] (colFibrils) -- (aggInto);
		\draw[arrow] (aggInto) -- (colFib);
		\draw[conn] (tropo) -- (spont);
		\draw[arrow] (spont) -- (colFibrils);
		\draw[conn] (covalent) -- (stabil);
		\draw[arrow] (stabil) -- (tropo);
		\draw[conn] (tropo) -- (madeOf);
		\draw[arrow] (madeOf) -- (polypep);
		\draw[conn] (tropo) -- (isOut);
		\draw[arrow] (isOut) -- (outside);
		\draw[conn] (proteinases) -- (creatTro);
		\draw[arrow] (creatTro) -- (tropo);
		\draw[conn] (regPep) -- (removed);
		\draw[arrow] (removed) -- (proteinases);
		\draw[conn] (procol) -- (becomes1);
		\draw[arrow] (becomes1) -- (tropo);
		\draw[conn] (procol) -- (transp);
		\draw[arrow] (transp) -- (outside);
		\draw[conn] (procol) -- (containsP);
		\draw[arrow] (containsP) -- (regPep);
		\draw[conn] (regPep) -- (respFor);
		\draw[arrow] (respFor) -- (solub);
		\draw[arrow] (respFor) -- (align);
		\draw[conn] (hydroxy) -- (ofHyd);
		\draw[conn] (proline) -- (ofHyd);
		\draw[arrow] (ofHyd) -- (procol);
		\draw[conn] (proline) -- (toHyd);
		\draw[arrow] (toHyd) -- (hydroxy);
		\draw[conn] (er) -- (glycos);
		\draw[arrow] (glycos) -- (hydroxy.south -| glycos);
		\draw[arrow] (glycos) -- (types12);
		\draw[conn] (er) -- (hydroxyl);
		\draw[arrow] (hydroxyl) -- (proline);
		\draw[arrow] (abnormal) -- (hydroxyl);
		\draw[conn] (preproc) -- (becomes2);
		\draw[arrow] (becomes2) -- (procol);
		\draw[conn] (preproc) -- (containsS);
		\draw[arrow] (containsS) -- (sigSeq);
		\draw[conn] (sigSeq) -- (creatSig);
		\draw[arrow] (creatSig) -- (procol);
		\draw[conn] (er) -- (cleaves);
		\draw[arrow] (cleaves) -- (sigSeq);
		\draw[conn] (er) -- (synthes);
		\draw[arrow] (synthes) -- (preproc);
		\draw[conn] (scurvy) -- (charScurvy);
		\draw[arrow] (charScurvy) -- (vitC);
		\draw[arrow] (charScurvy) -- (brittle);
		\draw[arrow] (charScurvy) -- (abnormal);
		\draw[conn] (eds) -- (charEDS);
		\draw[arrow] (charEDS) -- (abnormal);
		\draw[arrow] (charEDS) -- (hypermob);
		\draw[arrow] (charEDS) -- (looseSkin);
		\draw[arrow] (charEDS) -- (fragile);

		\draw[conn] (retic) -- (charRet);
		\draw[arrow] (charRet) -- (thin052);
		\draw[arrow] (charRet) -- (type3);
		\draw[arrow] (charRet) -- (glycoRet);
		\draw[conn] (glycoRet) -- (makeThem);
		\draw[arrow] (makeThem) -- (pas);
		\draw[conn] (retic) -- (fnRet);
		\draw[arrow] (fnRet) -- (network);
		\draw[conn] (network) -- (abDuring);
		\draw[arrow] (abDuring) -- (embryo);
		\draw[conn] (network) -- (abIn);
		\draw[arrow] (abIn) -- (hemopo);
		\draw[conn] (hemopo) -- (ie);
		\draw[arrow] (ie) -- (bloodV);
		\draw[conn] (embryo) -- (laterRep);
		\draw[darrow] (laterRep) -- (colFib);

		\draw[arrow] (elastic) -- (um021);
		\draw[conn] (elastic) -- (fnEl);
		\draw[arrow] (fnEl) -- (stretch);
		\draw[conn] (stretch) -- (asIn);
		\draw[arrow] (asIn) -- (lung);
		\draw[conn] (fibrillin) -- (encodes);
		\draw[arrow] (encodes) -- (elastic);
		\draw[conn] (fibrillin) -- (mutation);
		\draw[arrow] (mutation) -- (marfan);
		\draw[conn] (elastin) -- (further);
		\draw[conn] (elaunin) -- (further);
		\draw[arrow] (further) -- (elastic);
		\draw[conn] (elaunin) -- (remain1);
		\draw[arrow] (remain1) -- (dermin);
		\draw[conn] (hollow) -- (called);
		\draw[arrow] (called) -- (elaunin);
		\draw[conn] (oxytalin) -- (laterCalled);
		\draw[arrow] (laterCalled) -- (elaunin);
		\draw[conn] (oxytalin) -- (formH);
		\draw[arrow] (formH) -- (hollow);
		\draw[conn] (elastin) -- (deposited);
		\draw[arrow] (deposited) -- (hollow);
		\draw[conn] (elastin) -- (containsE);
		\draw[arrow] (containsE) -- (glycine);
		\draw[arrow] (containsE) -- (desmo);
		\draw[conn] (covReact) -- (formD);
		\draw[arrow] (formD) -- (desmo);
		\draw[arrow] (amorph) -- (elastin);
		\draw[conn] (proelastin) -- (polym);
		\draw[arrow] (polym) -- (elastin);
		\draw[conn] (fibroblasts2) -- (make);
		\draw[conn] (smooth) -- (make);
		\draw[arrow] (make) -- (proelastin);
		\draw[arrow] (oxytalin) -- (notEl);
		\draw[conn] (oxytalin) -- (remain2);
		\draw[arrow] (remain2) -- (dermisZ);
		\draw[arrow] (glycoprot) -- (oxytalin);
	\end{pgfonlayer}
\end{tikzpicture}
\end{document}
